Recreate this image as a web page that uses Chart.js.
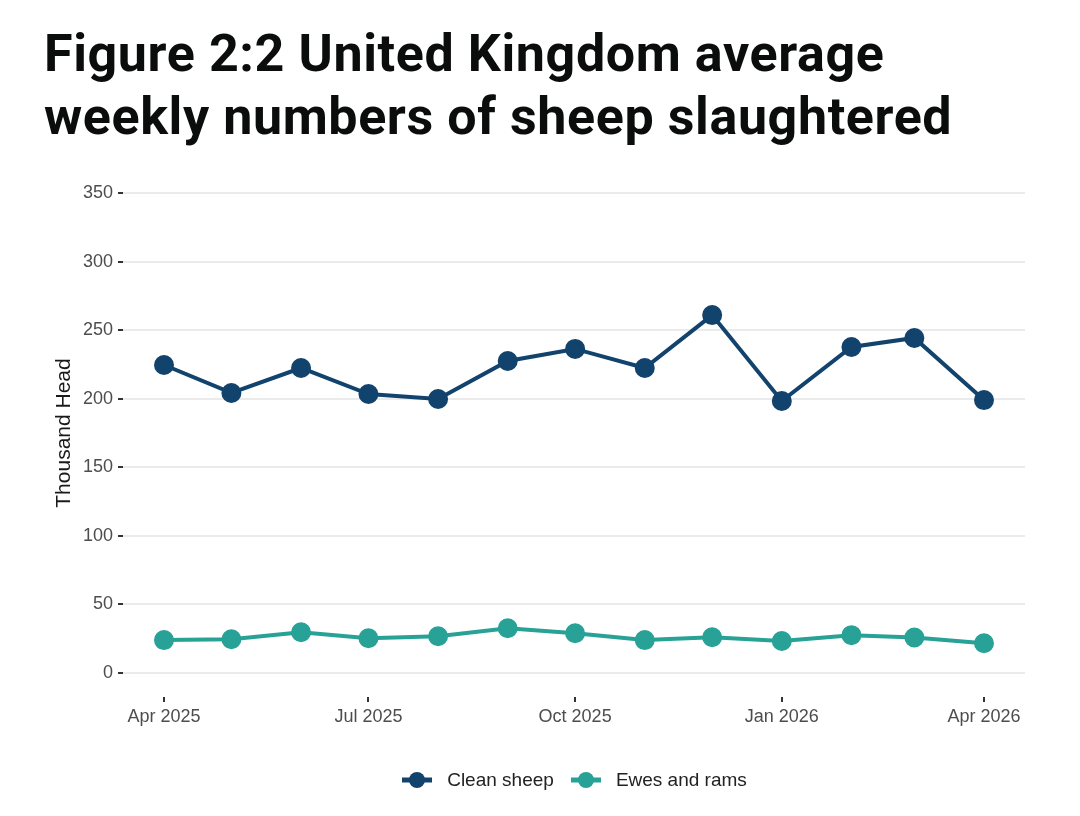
<!DOCTYPE html>
<html>
<head>
<meta charset="utf-8">
<script src="https://cdn.jsdelivr.net/npm/chart.js@4.4.1/dist/chart.umd.min.js"></script>
<style>
  html, body { margin: 0; padding: 0; background: #fff; }
  #wrap { position: relative; width: 1080px; height: 816px; overflow: hidden; }
  h1 { position: absolute; left: 44px; top: 22px; margin: 0; font-family: Roboto, sans-serif; font-weight: 700;
       font-size: 52px; line-height: 63px; color: #0b0c0c; letter-spacing: 0.6px; }
  canvas { position: absolute; left: 0; top: 0; }
  #legend { position: absolute; left: 123px; width: 902px; top: 769px; display: flex; justify-content: center;
            font-family: "Liberation Sans", Arial, sans-serif; font-size: 19px; color: #222; }
  .item { display: flex; align-items: center; margin: 0 8px; }
  .item svg { margin-right: 14px; }
</style>
</head>
<body>
<div id="wrap">
  <h1>Figure 2:2 United Kingdom average<br>weekly numbers of sheep slaughtered</h1>
  <canvas id="chart" width="1080" height="816"></canvas>
  <div id="legend"></div>
</div>
<script>
// monthly observations
var months = ["2025-04-01","2025-05-01","2025-06-01","2025-07-01","2025-08-01","2025-09-01","2025-10-01",
              "2025-11-01","2025-12-01","2026-01-01","2026-02-01","2026-03-01","2026-04-01"];
var cleanSheep = [224.6, 204.2, 222.4, 203.4, 199.8, 227.5, 236.3, 222.4, 261.0, 198.3, 237.7, 244.3, 199.0];
var ewesRams = [24.0, 24.6, 29.7, 25.3, 26.8, 32.6, 29.0, 24.0, 26.1, 23.3, 27.6, 25.9, 21.7];

var seriesNames = ["Clean sheep", "Ewes and rams"];
var seriesColors = ["#12436D", "#28A197"];

var xTickDates = ["2025-04-01", "2025-07-01", "2025-10-01", "2026-01-01", "2026-04-01"];
var xTickLabels = ["Apr 2025", "Jul 2025", "Oct 2025", "Jan 2026", "Apr 2026"];
var yTicks = [0, 50, 100, 150, 200, 250, 300, 350];

function dayOf(d) { return (Date.parse(d) - Date.parse(months[0])) / 86400000; }

function toPoints(vals) {
  return vals.map(function (v, i) { return { x: dayOf(months[i]), y: v }; });
}

var span = dayOf(months[months.length - 1]);

var datasets = [cleanSheep, ewesRams].map(function (vals, i) {
  return {
    label: seriesNames[i],
    data: toPoints(vals),
    borderColor: seriesColors[i],
    backgroundColor: seriesColors[i],
    borderWidth: 4,
    pointRadius: 8,
    pointHoverRadius: 8,
    tension: 0
  };
});

new Chart(document.getElementById("chart"), {
  type: "line",
  data: { datasets: datasets },
  options: {
    responsive: false,
    animation: false,
    layout: { padding: { left: 48, right: 55, top: 169, bottom: 79 } },
    plugins: { legend: { display: false }, tooltip: { enabled: false } },
    scales: {
      x: {
        type: "linear",
        min: -span * 0.05,
        max: span * 1.05,
        afterBuildTicks: function (s) { s.ticks = xTickDates.map(function (d) { return { value: dayOf(d) }; }); },
        afterFit: function (s) { s.height = 40; },
        ticks: {
          autoSkip: false, maxRotation: 0, padding: 4,
          color: "#4d4d4d",
          font: { family: "'Liberation Sans', Arial, sans-serif", size: 18 },
          callback: function (v, i) { return xTickLabels[i]; }
        },
        grid: { drawOnChartArea: false, tickLength: 5, tickColor: "#333", lineWidth: 2 },
        border: { display: false }
      },
      y: {
        min: -17.5,
        max: 367.5,
        afterBuildTicks: function (s) { s.ticks = yTicks.map(function (v) { return { value: v }; }); },
        afterFit: function (s) { s.width = 75; },
        ticks: {
          padding: 5,
          color: "#4d4d4d",
          font: { family: "'Liberation Sans', Arial, sans-serif", size: 18 }
        },
        grid: { color: "#ebebeb", lineWidth: 2, tickLength: 5, tickColor: "#333" },
        border: { display: false },
        title: {
          display: true, text: "Thousand Head", color: "#1a1a1a",
          font: { family: "'Liberation Sans', Arial, sans-serif", size: 21 }
        }
      }
    }
  }
});

// legend
var lg = document.getElementById("legend");
seriesNames.forEach(function (n, i) {
  var it = document.createElement("div");
  it.className = "item";
  it.innerHTML = '<svg width="32" height="20"><line x1="1" y1="10" x2="31" y2="10" stroke="' + seriesColors[i] +
    '" stroke-width="5"/><circle cx="16" cy="10" r="8" fill="' + seriesColors[i] + '"/></svg><span>' + n + '</span>';
  lg.appendChild(it);
});
</script>
</body>
</html>
